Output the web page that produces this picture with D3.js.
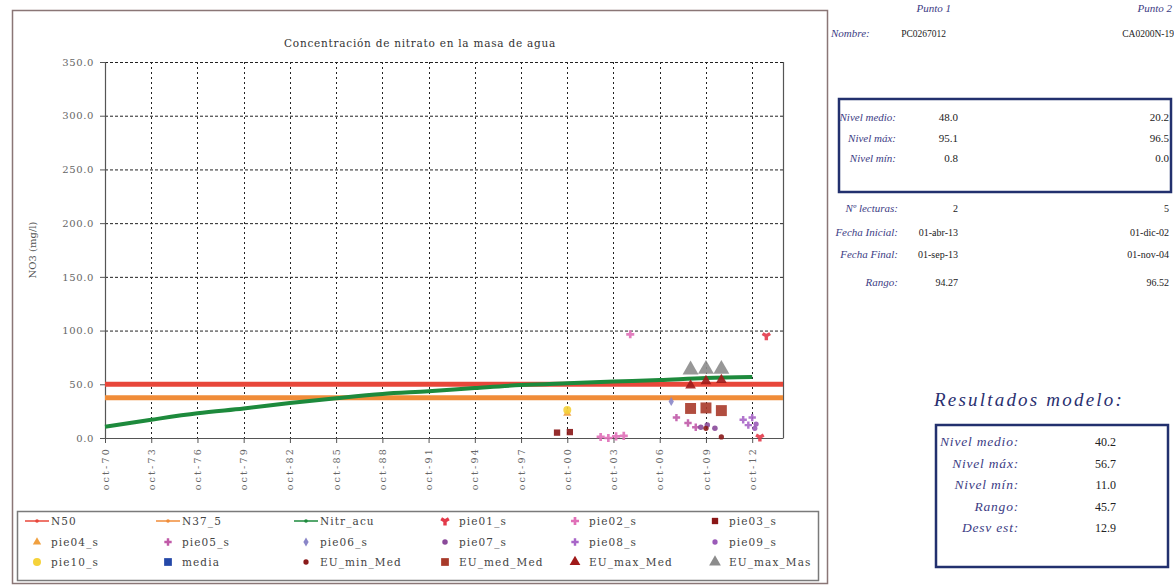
<!DOCTYPE html>
<html>
<head>
<meta charset="utf-8">
<script src="https://cdn.jsdelivr.net/npm/d3@7"></script>
<style>
  body { margin: 0; background: #fff; }
  svg { display: block; }
</style>
</head>
<body>
<svg id="chart" width="1174" height="586"></svg>
<script>
// ---- data ---------------------------------------------------------------
const xTickDates = ["1970-10-01","1973-10-01","1976-10-01","1979-10-01","1982-10-01",
  "1985-10-01","1988-10-01","1991-10-01","1994-10-01","1997-10-01","2000-10-01",
  "2003-10-01","2006-10-01","2009-10-01","2012-10-01"];
const xTickLabels = ["oct-70","oct-73","oct-76","oct-79","oct-82","oct-85","oct-88",
  "oct-91","oct-94","oct-97","oct-00","oct-03","oct-06","oct-09","oct-12"];
const yTicks = [0, 50, 100, 150, 200, 250, 300, 350];

// threshold lines (mg/l)
const n50Value = 50;
const n37Value = 37.5;

// accumulated nitrate model (Nitr_acu)
const nitrDates = xTickDates;
const nitrValues = [10.5, 17.0, 23.0, 27.5, 32.5, 37.0, 41.0, 43.5, 46.5, 49.3, 51.0,
  52.5, 54.0, 55.8, 56.7];

// observed points
const pie01Dates = ["2013-04-01","2013-09-01"];
const pie01Values = [0.8, 95.1];
const pie02Dates = ["2002-12-01","2003-06-01","2003-12-01","2004-06-01","2004-11-01"];
const pie02Values = [1.0, 0.0, 1.5, 2.0, 96.5];
const pie03Dates = ["2000-02-01","2000-12-01"];
const pie03Values = [5.0, 5.5];
const pie04Dates = ["2000-10-01"];
const pie04Values = [23.0];
const pie05Dates = ["2007-11-01","2008-08-01","2009-02-01"];
const pie05Values = [19.0, 14.0, 10.0];
const pie06Dates = ["2007-07-01"];
const pie06Values = [34.0];
const pie07Dates = ["2009-06-01","2009-11-01","2010-05-01"];
const pie07Values = [10.0, 12.0, 9.0];
const pie08Dates = ["2012-03-01","2012-07-01","2012-10-01"];
const pie08Values = [17.0, 12.0, 19.0];
const pie09Dates = ["2012-12-01","2013-01-01"];
const pie09Values = [9.0, 13.0];
const pie10Dates = ["2000-10-01"];
const pie10Values = [26.0];
const mediaDates = [];
const mediaValues = [];

// model results per period
const euDates = ["2008-10-01","2009-10-01","2010-10-01"];
const euMinMed = [null, 9.0, 1.0];
const euMedMed = [27.5, 28.0, 25.5];
const euMaxMed = [49.0, 53.0, 54.0];
const euMaxMas = [63.5, 64.0, 64.0];

// side tables
const pointHeaders = ["Punto 1", "Punto 2"];
const pointNames = ["PC0267012", "CA0200N-19"];
const levelLabels = ["Nivel medio:", "Nivel máx:", "Nivel mín:"];
const levelP1 = ["48.0", "95.1", "0.8"];
const levelP2 = ["20.2", "96.5", "0.0"];
const infoLabels = ["Nº lecturas:", "Fecha Inicial:", "Fecha Final:", "Rango:"];
const infoP1 = ["2", "01-abr-13", "01-sep-13", "94.27"];
const infoP2 = ["5", "01-dic-02", "01-nov-04", "96.52"];
const modelLabels = ["Nivel medio:", "Nivel máx:", "Nivel mín:", "Rango:", "Desv est:"];
const modelValues = ["40.2", "56.7", "11.0", "45.7", "12.9"];

// ---- drawing ------------------------------------------------------------
const svg = d3.select("#chart");
const parse = d3.timeParse("%Y-%m-%d");
const serif = "'DejaVu Serif', serif";

const plot = { left: 105, right: 783, top: 62, bottom: 438 };
const x = d3.scaleTime()
  .domain([parse("1970-10-01"), parse("2014-10-01")])
  .range([plot.left, plot.right]);
const y = d3.scaleLinear().domain([0, 350]).range([plot.bottom, plot.top]);

// outer frame
svg.append("rect").attr("x", 12.5).attr("y", 10.5).attr("width", 815).attr("height", 573)
  .attr("fill", "#fff").attr("stroke", "#8a7676").attr("stroke-width", 1.5);

// title
svg.append("text").attr("x", 420).attr("y", 47).attr("text-anchor", "middle")
  .attr("font-family", serif).attr("font-size", 10.5).attr("fill", "#333")
  .attr("letter-spacing", 0.75)
  .text("Concentración de nitrato en la masa de agua");

// y axis title
svg.append("text")
  .attr("transform", "translate(36,250) rotate(-90)")
  .attr("text-anchor", "middle").attr("font-family", serif).attr("font-size", 10)
  .attr("fill", "#555").text("NO3 (mg/l)");

// grid
const grid = svg.append("g");
grid.selectAll("line.h").data(yTicks.filter(d => d > 0)).join("line")
  .attr("x1", plot.left).attr("x2", plot.right)
  .attr("y1", d => y(d) + 0.5).attr("y2", d => y(d) + 0.5)
  .attr("stroke", "#222").attr("stroke-width", 1).attr("stroke-dasharray", "3,2");
grid.selectAll("line.v").data(xTickDates.slice(1)).join("line")
  .attr("x1", d => Math.round(x(parse(d))) + 0.5).attr("x2", d => Math.round(x(parse(d))) + 0.5)
  .attr("y1", plot.top).attr("y2", plot.bottom)
  .attr("stroke", "#222").attr("stroke-width", 1).attr("stroke-dasharray", "2,3");

// plot border (right side)
svg.append("line").attr("x1", plot.right + 0.5).attr("x2", plot.right + 0.5)
  .attr("y1", plot.top).attr("y2", plot.bottom).attr("stroke", "#555").attr("stroke-width", 1.2);

// y axis
const yAxis = d3.axisLeft(y).tickValues(yTicks).tickFormat(d3.format(".1f")).tickSize(5).tickPadding(6);
const gy = svg.append("g").attr("transform", `translate(${plot.left},0)`).call(yAxis);
gy.select(".domain").attr("stroke", "#555").attr("stroke-width", 1.2);
gy.selectAll(".tick line").attr("stroke", "#555");
gy.selectAll("text").attr("font-family", serif).attr("font-size", 10)
  .attr("fill", "#666").attr("letter-spacing", 0.6);

// x axis
const xAxis = d3.axisBottom(x).tickValues(xTickDates.map(parse))
  .tickFormat((d, i) => xTickLabels[i]).tickSize(5).tickSizeOuter(0);
const gx = svg.append("g").attr("transform", `translate(0,${plot.bottom})`).call(xAxis);
gx.select(".domain").attr("stroke", "#555").attr("stroke-width", 1.2);
gx.selectAll(".tick line").attr("stroke", "#555");
gx.selectAll("text")
  .attr("font-family", serif).attr("font-size", 9.5).attr("fill", "#666")
  .attr("letter-spacing", 2.2)
  .attr("text-anchor", "end").attr("dy", "0.32em")
  .attr("transform", "translate(0,9) rotate(-90)").attr("x", 0).attr("y", 0);

// threshold lines
svg.append("line").attr("x1", plot.left).attr("x2", plot.right)
  .attr("y1", y(n50Value)).attr("y2", y(n50Value))
  .attr("stroke", "#e8473a").attr("stroke-width", 5);
svg.append("line").attr("x1", plot.left).attr("x2", plot.right)
  .attr("y1", y(n37Value)).attr("y2", y(n37Value))
  .attr("stroke", "#f08c38").attr("stroke-width", 5);

// accumulated nitrate line
const nitrData = nitrDates.map((d, i) => ({ date: parse(d), v: nitrValues[i] }));
svg.append("path").datum(nitrData)
  .attr("d", d3.line().curve(d3.curveMonotoneX).x(d => x(d.date)).y(d => y(d.v)))
  .attr("fill", "none").attr("stroke", "#1d8a3c").attr("stroke-width", 4)
  .attr("stroke-linejoin", "round");

// scatter series
const zip = (ds, vs) => ds.map((d, i) => ({ date: parse(d), v: vs[i] })).filter(p => p.v != null);
const series = [
  { name: "pie01_s", dates: pie01Dates, values: pie01Values, type: d3.symbolWye, size: 40, color: "#e33a4a" },
  { name: "pie02_s", dates: pie02Dates, values: pie02Values, type: d3.symbolCross, size: 36, color: "#e070b8" },
  { name: "pie03_s", dates: pie03Dates, values: pie03Values, type: d3.symbolSquare, size: 40, color: "#8a1616" },
  { name: "pie04_s", dates: pie04Dates, values: pie04Values, type: d3.symbolTriangle, size: 30, color: "#f0a040" },
  { name: "pie05_s", dates: pie05Dates, values: pie05Values, type: d3.symbolCross, size: 30, color: "#c05aa8" },
  { name: "pie06_s", dates: pie06Dates, values: pie06Values, type: d3.symbolDiamond, size: 24, color: "#8a86c8" },
  { name: "pie07_s", dates: pie07Dates, values: pie07Values, type: d3.symbolCircle, size: 24, color: "#8a4a9a" },
  { name: "pie08_s", dates: pie08Dates, values: pie08Values, type: d3.symbolCross, size: 30, color: "#a866c8" },
  { name: "pie09_s", dates: pie09Dates, values: pie09Values, type: d3.symbolCircle, size: 22, color: "#9a5ab8" },
  { name: "pie10_s", dates: pie10Dates, values: pie10Values, type: d3.symbolCircle, size: 50, color: "#f5d23a" },
  { name: "media", dates: mediaDates, values: mediaValues, type: d3.symbolSquare, size: 80, color: "#2448a8" },
  { name: "EU_min_Med", dates: euDates, values: euMinMed, type: d3.symbolCircle, size: 22, color: "#8a1a1a" },
  { name: "EU_med_Med", dates: euDates, values: euMedMed, type: d3.symbolSquare, size: 120, color: "#a83a2a" },
  { name: "EU_max_Med", dates: euDates, values: euMaxMed, type: d3.symbolTriangle, size: 50, color: "#a01a1a" },
  { name: "EU_max_Mas", dates: euDates, values: euMaxMas, type: d3.symbolTriangle, size: 110, color: "#8c8c8c" }
];
const marks = svg.append("g");
series.forEach(s => {
  marks.selectAll(null).data(zip(s.dates, s.values)).join("path")
    .attr("transform", d => `translate(${x(d.date)},${y(d.v)})`)
    .attr("d", d3.symbol().type(s.type).size(s.size))
    .attr("fill", s.color).attr("opacity", 0.9);
});

// legend
svg.append("rect").attr("x", 17.5).attr("y", 511.5).attr("width", 801).attr("height", 69)
  .attr("fill", "#fff").attr("stroke", "#7a7a7a").attr("stroke-width", 1.5);
const legendItems = [
  { name: "N50", kind: "line", color: "#e8473a" },
  { name: "N37_5", kind: "line", color: "#f08c38" },
  { name: "Nitr_acu", kind: "line", color: "#1d8a3c" },
  ...series
];
const colX = [37, 168, 306, 445, 575, 715];
const rowY = [521, 542, 562];
const lg = svg.append("g");
legendItems.forEach((it, i) => {
  const r = Math.floor(i / 6), c = i % 6;
  const cx = colX[c], cy = rowY[r];
  if (it.kind === "line") {
    lg.append("line").attr("x1", cx - 12).attr("x2", cx + 12).attr("y1", cy).attr("y2", cy)
      .attr("stroke", it.color).attr("stroke-width", 1.5);
    lg.append("circle").attr("cx", cx).attr("cy", cy).attr("r", 1.8).attr("fill", it.color);
  } else {
    lg.append("path").attr("transform", `translate(${cx},${cy})`)
      .attr("d", d3.symbol().type(it.type).size(Math.min(it.size, 60)))
      .attr("fill", it.color);
  }
  lg.append("text").attr("x", cx + 14).attr("y", cy + 3.5)
    .attr("font-family", serif).attr("font-size", 10.5).attr("fill", "#444")
    .attr("letter-spacing", 1.1).text(it.name);
});

// ---- side tables --------------------------------------------------------
const labelColor = "#3c3c84";
const side = svg.append("g").attr("font-family", "'Liberation Serif', serif");

side.selectAll("text.hdr").data(pointHeaders).join("text")
  .attr("x", (d, i) => [951, 1172][i]).attr("y", 12).attr("text-anchor", "end")
  .attr("font-style", "italic").attr("font-size", 11).attr("fill", labelColor).text(d => d);
side.append("text").attr("x", 831).attr("y", 37).attr("font-style", "italic")
  .attr("font-size", 11).attr("fill", labelColor).text("Nombre:");
side.selectAll("text.nm").data(pointNames).join("text")
  .attr("x", (d, i) => [946, 1174][i]).attr("y", 37).attr("text-anchor", "end")
  .attr("font-size", 9.5).attr("fill", "#222").text(d => d);

// level box
side.append("rect").attr("x", 839).attr("y", 99).attr("width", 332).attr("height", 93)
  .attr("fill", "none").attr("stroke", "#22306e").attr("stroke-width", 2.5);
levelLabels.forEach((l, i) => {
  const yy = 121 + i * 20.5;
  side.append("text").attr("x", 896).attr("y", yy).attr("text-anchor", "end")
    .attr("font-style", "italic").attr("font-size", 11).attr("fill", labelColor).text(l);
  side.append("text").attr("x", 958).attr("y", yy).attr("text-anchor", "end")
    .attr("font-size", 11).attr("fill", "#222").text(levelP1[i]);
  side.append("text").attr("x", 1169).attr("y", yy).attr("text-anchor", "end")
    .attr("font-size", 11).attr("fill", "#222").text(levelP2[i]);
});

// info rows
const infoY = [212, 236, 258, 286];
infoLabels.forEach((l, i) => {
  side.append("text").attr("x", 898).attr("y", infoY[i]).attr("text-anchor", "end")
    .attr("font-style", "italic").attr("font-size", 11).attr("fill", labelColor).text(l);
  side.append("text").attr("x", 958).attr("y", infoY[i]).attr("text-anchor", "end")
    .attr("font-size", 10).attr("fill", "#222").text(infoP1[i]);
  side.append("text").attr("x", 1169).attr("y", infoY[i]).attr("text-anchor", "end")
    .attr("font-size", 10).attr("fill", "#222").text(infoP2[i]);
});

// model results
side.append("text").attr("x", 934).attr("y", 406).attr("font-style", "italic")
  .attr("font-size", 19).attr("fill", "#2a3070").attr("letter-spacing", 2.2)
  .text("Resultados modelo:");
side.append("rect").attr("x", 936).attr("y", 425).attr("width", 232).attr("height", 142)
  .attr("fill", "none").attr("stroke", "#22306e").attr("stroke-width", 2.5);
modelLabels.forEach((l, i) => {
  const yy = 446 + i * 21.5;
  side.append("text").attr("x", 1019).attr("y", yy).attr("text-anchor", "end")
    .attr("font-style", "italic").attr("font-size", 13.5).attr("fill", labelColor)
    .attr("letter-spacing", 0.8).text(l);
  side.append("text").attr("x", 1116).attr("y", yy).attr("text-anchor", "end")
    .attr("font-size", 12).attr("fill", "#222").text(modelValues[i]);
});
</script>
</body>
</html>
